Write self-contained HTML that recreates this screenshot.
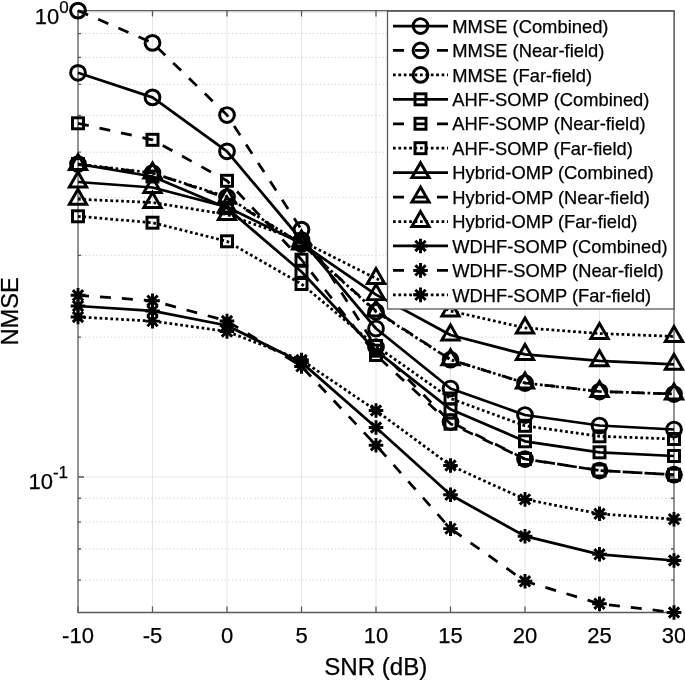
<!DOCTYPE html>
<html><head><meta charset="utf-8"><style>
html,body{margin:0;padding:0;background:#fff;}
body{width:685px;height:680px;overflow:hidden;}
svg{display:block;}
text{font-family:"Liberation Sans",sans-serif;fill:#000;stroke:#000;stroke-width:0.25px;}
</style></head><body>
<svg style="filter:grayscale(1)" width="685" height="680" viewBox="0 0 685 680">
<rect width="685" height="680" fill="#fff"/>

<line x1="152.5" y1="10.6" x2="152.5" y2="612.5" stroke="#e6e6e6" stroke-width="1"/>
<line x1="227" y1="10.6" x2="227" y2="612.5" stroke="#e6e6e6" stroke-width="1"/>
<line x1="301.5" y1="10.6" x2="301.5" y2="612.5" stroke="#e6e6e6" stroke-width="1"/>
<line x1="376" y1="10.6" x2="376" y2="612.5" stroke="#e6e6e6" stroke-width="1"/>
<line x1="450.5" y1="10.6" x2="450.5" y2="612.5" stroke="#e6e6e6" stroke-width="1"/>
<line x1="525" y1="10.6" x2="525" y2="612.5" stroke="#e6e6e6" stroke-width="1"/>
<line x1="599.5" y1="10.6" x2="599.5" y2="612.5" stroke="#e6e6e6" stroke-width="1"/>
<line x1="78" y1="12.30" x2="674" y2="12.30" stroke="#e6e6e6" stroke-width="1"/>
<line x1="78" y1="477.00" x2="674" y2="477.00" stroke="#e6e6e6" stroke-width="1"/>
<line x1="78" y1="33.56" x2="674" y2="33.56" stroke="#cccccc" stroke-width="1" stroke-dasharray="1.2 2.47"/>
<line x1="78" y1="57.33" x2="674" y2="57.33" stroke="#cccccc" stroke-width="1" stroke-dasharray="1.2 2.47"/>
<line x1="78" y1="84.28" x2="674" y2="84.28" stroke="#cccccc" stroke-width="1" stroke-dasharray="1.2 2.47"/>
<line x1="78" y1="115.39" x2="674" y2="115.39" stroke="#cccccc" stroke-width="1" stroke-dasharray="1.2 2.47"/>
<line x1="78" y1="152.19" x2="674" y2="152.19" stroke="#cccccc" stroke-width="1" stroke-dasharray="1.2 2.47"/>
<line x1="78" y1="197.22" x2="674" y2="197.22" stroke="#cccccc" stroke-width="1" stroke-dasharray="1.2 2.47"/>
<line x1="78" y1="255.28" x2="674" y2="255.28" stroke="#cccccc" stroke-width="1" stroke-dasharray="1.2 2.47"/>
<line x1="78" y1="337.11" x2="674" y2="337.11" stroke="#cccccc" stroke-width="1" stroke-dasharray="1.2 2.47"/>
<line x1="78" y1="498.26" x2="674" y2="498.26" stroke="#cccccc" stroke-width="1" stroke-dasharray="1.2 2.47"/>
<line x1="78" y1="522.03" x2="674" y2="522.03" stroke="#cccccc" stroke-width="1" stroke-dasharray="1.2 2.47"/>
<line x1="78" y1="548.98" x2="674" y2="548.98" stroke="#cccccc" stroke-width="1" stroke-dasharray="1.2 2.47"/>
<line x1="78" y1="580.09" x2="674" y2="580.09" stroke="#cccccc" stroke-width="1" stroke-dasharray="1.2 2.47"/>
<path d="M78 10.6H674V612.5H78Z" fill="none" stroke="#5a5a5a" stroke-width="1.3"/>
<path d="M78 612.5v-6M78 10.6v6M152.5 612.5v-6M152.5 10.6v6M227 612.5v-6M227 10.6v6M301.5 612.5v-6M301.5 10.6v6M376 612.5v-6M376 10.6v6M450.5 612.5v-6M450.5 10.6v6M525 612.5v-6M525 10.6v6M599.5 612.5v-6M599.5 10.6v6M674 612.5v-6M674 10.6v6M78 12.30h6M674 12.30h-6M78 477.00h6M674 477.00h-6M78 33.56h3M674 33.56h-3M78 57.33h3M674 57.33h-3M78 84.28h3M674 84.28h-3M78 115.39h3M674 115.39h-3M78 152.19h3M674 152.19h-3M78 197.22h3M674 197.22h-3M78 255.28h3M674 255.28h-3M78 337.11h3M674 337.11h-3M78 498.26h3M674 498.26h-3M78 522.03h3M674 522.03h-3M78 548.98h3M674 548.98h-3M78 580.09h3M674 580.09h-3" stroke="#5a5a5a" stroke-width="1.3"/>
<polyline points="78.00,72.80 152.50,97.40 227.00,151.30 301.50,240.00 376.00,328.50 450.50,388.50 525.00,415.00 599.50,425.50 674.00,429.50" fill="none" stroke="#000" stroke-width="2.75" stroke-linejoin="round" />
<polyline points="78.00,10.60 152.50,42.90 227.00,115.00 301.50,229.60 376.00,347.00 450.50,422.00 525.00,459.00 599.50,470.50 674.00,474.70" fill="none" stroke="#000" stroke-width="2.75" stroke-linejoin="round" stroke-dasharray="11 11"/>
<polyline points="78.00,164.00 152.50,173.00 227.00,197.00 301.50,244.00 376.00,311.70 450.50,359.70 525.00,383.00 599.50,391.50 674.00,394.00" fill="none" stroke="#000" stroke-width="2.75" stroke-linejoin="round" stroke-dasharray="2.7 2.7"/>
<polyline points="78.00,164.00 152.50,176.50 227.00,208.00 301.50,271.80 376.00,350.70 450.50,409.30 525.00,441.30 599.50,452.30 674.00,456.00" fill="none" stroke="#000" stroke-width="2.75" stroke-linejoin="round" />
<polyline points="78.00,123.30 152.50,139.80 227.00,180.80 301.50,259.70 376.00,355.00 450.50,423.70 525.00,459.00 599.50,470.50 674.00,474.70" fill="none" stroke="#000" stroke-width="2.75" stroke-linejoin="round" stroke-dasharray="11 11"/>
<polyline points="78.00,216.30 152.50,222.70 227.00,241.30 301.50,284.00 376.00,346.00 450.50,398.50 525.00,425.80 599.50,436.30 674.00,439.00" fill="none" stroke="#000" stroke-width="2.75" stroke-linejoin="round" stroke-dasharray="2.7 2.7"/>
<polyline points="78.00,182.00 152.50,187.50 227.00,207.00 301.50,243.50 376.00,294.60 450.50,335.00 525.00,354.40 599.50,360.80 674.00,364.30" fill="none" stroke="#000" stroke-width="2.75" stroke-linejoin="round" />
<polyline points="78.00,164.60 152.50,173.00 227.00,198.00 301.50,244.00 376.00,311.00 450.50,359.70 525.00,383.00 599.50,391.50 674.00,394.00" fill="none" stroke="#000" stroke-width="2.75" stroke-linejoin="round" stroke-dasharray="11 11"/>
<polyline points="78.00,199.20 152.50,202.50 227.00,214.50 301.50,241.00 376.00,278.50 450.50,311.00 525.00,327.90 599.50,333.50 674.00,336.40" fill="none" stroke="#000" stroke-width="2.75" stroke-linejoin="round" stroke-dasharray="2.7 2.7"/>
<polyline points="78.00,306.00 152.50,310.90 227.00,325.50 301.50,362.40 376.00,427.50 450.50,494.80 525.00,536.20 599.50,554.30 674.00,560.50" fill="none" stroke="#000" stroke-width="2.75" stroke-linejoin="round" />
<polyline points="78.00,295.30 152.50,300.70 227.00,321.00 301.50,366.40 376.00,445.20 450.50,528.60 525.00,581.30 599.50,603.70 674.00,612.50" fill="none" stroke="#000" stroke-width="2.75" stroke-linejoin="round" stroke-dasharray="11 11"/>
<polyline points="78.00,317.00 152.50,321.10 227.00,331.50 301.50,360.00 376.00,410.50 450.50,465.50 525.00,499.40 599.50,513.80 674.00,519.20" fill="none" stroke="#000" stroke-width="2.75" stroke-linejoin="round" stroke-dasharray="2.7 2.7"/>
<g fill="none" stroke="#000" stroke-width="2.95" stroke-linecap="butt"><circle cx="78.00" cy="72.80" r="7.4"/><circle cx="152.50" cy="97.40" r="7.4"/><circle cx="227.00" cy="151.30" r="7.4"/><circle cx="301.50" cy="240.00" r="7.4"/><circle cx="376.00" cy="328.50" r="7.4"/><circle cx="450.50" cy="388.50" r="7.4"/><circle cx="525.00" cy="415.00" r="7.4"/><circle cx="599.50" cy="425.50" r="7.4"/><circle cx="674.00" cy="429.50" r="7.4"/></g>
<g fill="none" stroke="#000" stroke-width="2.95" stroke-linecap="butt"><circle cx="78.00" cy="10.60" r="7.4"/><circle cx="152.50" cy="42.90" r="7.4"/><circle cx="227.00" cy="115.00" r="7.4"/><circle cx="301.50" cy="229.60" r="7.4"/><circle cx="376.00" cy="347.00" r="7.4"/><circle cx="450.50" cy="422.00" r="7.4"/><circle cx="525.00" cy="459.00" r="7.4"/><circle cx="599.50" cy="470.50" r="7.4"/><circle cx="674.00" cy="474.70" r="7.4"/></g>
<g fill="none" stroke="#000" stroke-width="2.95" stroke-linecap="butt"><circle cx="78.00" cy="164.00" r="7.4"/><circle cx="152.50" cy="173.00" r="7.4"/><circle cx="227.00" cy="197.00" r="7.4"/><circle cx="301.50" cy="244.00" r="7.4"/><circle cx="376.00" cy="311.70" r="7.4"/><circle cx="450.50" cy="359.70" r="7.4"/><circle cx="525.00" cy="383.00" r="7.4"/><circle cx="599.50" cy="391.50" r="7.4"/><circle cx="674.00" cy="394.00" r="7.4"/></g>
<g fill="none" stroke="#000" stroke-width="2.95" stroke-linecap="butt"><rect x="72.50" y="158.50" width="11.0" height="11.0"/><rect x="147.00" y="171.00" width="11.0" height="11.0"/><rect x="221.50" y="202.50" width="11.0" height="11.0"/><rect x="296.00" y="266.30" width="11.0" height="11.0"/><rect x="370.50" y="345.20" width="11.0" height="11.0"/><rect x="445.00" y="403.80" width="11.0" height="11.0"/><rect x="519.50" y="435.80" width="11.0" height="11.0"/><rect x="594.00" y="446.80" width="11.0" height="11.0"/><rect x="668.50" y="450.50" width="11.0" height="11.0"/></g>
<g fill="none" stroke="#000" stroke-width="2.95" stroke-linecap="butt"><rect x="72.50" y="117.80" width="11.0" height="11.0"/><rect x="147.00" y="134.30" width="11.0" height="11.0"/><rect x="221.50" y="175.30" width="11.0" height="11.0"/><rect x="296.00" y="254.20" width="11.0" height="11.0"/><rect x="370.50" y="349.50" width="11.0" height="11.0"/><rect x="445.00" y="418.20" width="11.0" height="11.0"/><rect x="519.50" y="453.50" width="11.0" height="11.0"/><rect x="594.00" y="465.00" width="11.0" height="11.0"/><rect x="668.50" y="469.20" width="11.0" height="11.0"/></g>
<g fill="none" stroke="#000" stroke-width="2.95" stroke-linecap="butt"><rect x="72.50" y="210.80" width="11.0" height="11.0"/><rect x="147.00" y="217.20" width="11.0" height="11.0"/><rect x="221.50" y="235.80" width="11.0" height="11.0"/><rect x="296.00" y="278.50" width="11.0" height="11.0"/><rect x="370.50" y="340.50" width="11.0" height="11.0"/><rect x="445.00" y="393.00" width="11.0" height="11.0"/><rect x="519.50" y="420.30" width="11.0" height="11.0"/><rect x="594.00" y="430.80" width="11.0" height="11.0"/><rect x="668.50" y="433.50" width="11.0" height="11.0"/></g>
<g fill="none" stroke="#000" stroke-width="2.95" stroke-linecap="butt"><path d="M78.00 172.00L86.66 187.00L69.34 187.00Z"/><path d="M152.50 177.50L161.16 192.50L143.84 192.50Z"/><path d="M227.00 197.00L235.66 212.00L218.34 212.00Z"/><path d="M301.50 233.50L310.16 248.50L292.84 248.50Z"/><path d="M376.00 284.60L384.66 299.60L367.34 299.60Z"/><path d="M450.50 325.00L459.16 340.00L441.84 340.00Z"/><path d="M525.00 344.40L533.66 359.40L516.34 359.40Z"/><path d="M599.50 350.80L608.16 365.80L590.84 365.80Z"/><path d="M674.00 354.30L682.66 369.30L665.34 369.30Z"/></g>
<g fill="none" stroke="#000" stroke-width="2.95" stroke-linecap="butt"><path d="M78.00 154.60L86.66 169.60L69.34 169.60Z"/><path d="M152.50 163.00L161.16 178.00L143.84 178.00Z"/><path d="M227.00 188.00L235.66 203.00L218.34 203.00Z"/><path d="M301.50 234.00L310.16 249.00L292.84 249.00Z"/><path d="M376.00 301.00L384.66 316.00L367.34 316.00Z"/><path d="M450.50 349.70L459.16 364.70L441.84 364.70Z"/><path d="M525.00 373.00L533.66 388.00L516.34 388.00Z"/><path d="M599.50 381.50L608.16 396.50L590.84 396.50Z"/><path d="M674.00 384.00L682.66 399.00L665.34 399.00Z"/></g>
<g fill="none" stroke="#000" stroke-width="2.95" stroke-linecap="butt"><path d="M78.00 189.20L86.66 204.20L69.34 204.20Z"/><path d="M152.50 192.50L161.16 207.50L143.84 207.50Z"/><path d="M227.00 204.50L235.66 219.50L218.34 219.50Z"/><path d="M301.50 231.00L310.16 246.00L292.84 246.00Z"/><path d="M376.00 268.50L384.66 283.50L367.34 283.50Z"/><path d="M450.50 301.00L459.16 316.00L441.84 316.00Z"/><path d="M525.00 317.90L533.66 332.90L516.34 332.90Z"/><path d="M599.50 323.50L608.16 338.50L590.84 338.50Z"/><path d="M674.00 326.40L682.66 341.40L665.34 341.40Z"/></g>
<g fill="none" stroke="#000" stroke-width="2.95" stroke-linecap="butt"><path d="M70.70 306.00H85.30M78.00 298.70V313.30M72.84 300.84L83.16 311.16M72.84 311.16L83.16 300.84"/><path d="M145.20 310.90H159.80M152.50 303.60V318.20M147.34 305.74L157.66 316.06M147.34 316.06L157.66 305.74"/><path d="M219.70 325.50H234.30M227.00 318.20V332.80M221.84 320.34L232.16 330.66M221.84 330.66L232.16 320.34"/><path d="M294.20 362.40H308.80M301.50 355.10V369.70M296.34 357.24L306.66 367.56M296.34 367.56L306.66 357.24"/><path d="M368.70 427.50H383.30M376.00 420.20V434.80M370.84 422.34L381.16 432.66M370.84 432.66L381.16 422.34"/><path d="M443.20 494.80H457.80M450.50 487.50V502.10M445.34 489.64L455.66 499.96M445.34 499.96L455.66 489.64"/><path d="M517.70 536.20H532.30M525.00 528.90V543.50M519.84 531.04L530.16 541.36M519.84 541.36L530.16 531.04"/><path d="M592.20 554.30H606.80M599.50 547.00V561.60M594.34 549.14L604.66 559.46M594.34 559.46L604.66 549.14"/><path d="M666.70 560.50H681.30M674.00 553.20V567.80M668.84 555.34L679.16 565.66M668.84 565.66L679.16 555.34"/></g>
<g fill="none" stroke="#000" stroke-width="2.95" stroke-linecap="butt"><path d="M70.70 295.30H85.30M78.00 288.00V302.60M72.84 290.14L83.16 300.46M72.84 300.46L83.16 290.14"/><path d="M145.20 300.70H159.80M152.50 293.40V308.00M147.34 295.54L157.66 305.86M147.34 305.86L157.66 295.54"/><path d="M219.70 321.00H234.30M227.00 313.70V328.30M221.84 315.84L232.16 326.16M221.84 326.16L232.16 315.84"/><path d="M294.20 366.40H308.80M301.50 359.10V373.70M296.34 361.24L306.66 371.56M296.34 371.56L306.66 361.24"/><path d="M368.70 445.20H383.30M376.00 437.90V452.50M370.84 440.04L381.16 450.36M370.84 450.36L381.16 440.04"/><path d="M443.20 528.60H457.80M450.50 521.30V535.90M445.34 523.44L455.66 533.76M445.34 533.76L455.66 523.44"/><path d="M517.70 581.30H532.30M525.00 574.00V588.60M519.84 576.14L530.16 586.46M519.84 586.46L530.16 576.14"/><path d="M592.20 603.70H606.80M599.50 596.40V611.00M594.34 598.54L604.66 608.86M594.34 608.86L604.66 598.54"/><path d="M666.70 612.50H681.30M674.00 605.20V619.80M668.84 607.34L679.16 617.66M668.84 617.66L679.16 607.34"/></g>
<g fill="none" stroke="#000" stroke-width="2.95" stroke-linecap="butt"><path d="M70.70 317.00H85.30M78.00 309.70V324.30M72.84 311.84L83.16 322.16M72.84 322.16L83.16 311.84"/><path d="M145.20 321.10H159.80M152.50 313.80V328.40M147.34 315.94L157.66 326.26M147.34 326.26L157.66 315.94"/><path d="M219.70 331.50H234.30M227.00 324.20V338.80M221.84 326.34L232.16 336.66M221.84 336.66L232.16 326.34"/><path d="M294.20 360.00H308.80M301.50 352.70V367.30M296.34 354.84L306.66 365.16M296.34 365.16L306.66 354.84"/><path d="M368.70 410.50H383.30M376.00 403.20V417.80M370.84 405.34L381.16 415.66M370.84 415.66L381.16 405.34"/><path d="M443.20 465.50H457.80M450.50 458.20V472.80M445.34 460.34L455.66 470.66M445.34 470.66L455.66 460.34"/><path d="M517.70 499.40H532.30M525.00 492.10V506.70M519.84 494.24L530.16 504.56M519.84 504.56L530.16 494.24"/><path d="M592.20 513.80H606.80M599.50 506.50V521.10M594.34 508.64L604.66 518.96M594.34 518.96L604.66 508.64"/><path d="M666.70 519.20H681.30M674.00 511.90V526.50M668.84 514.04L679.16 524.36M668.84 524.36L679.16 514.04"/></g>
<text x="78" y="643.3" font-size="22" text-anchor="middle">-10</text>
<text x="152.5" y="643.3" font-size="22" text-anchor="middle">-5</text>
<text x="227" y="643.3" font-size="22" text-anchor="middle">0</text>
<text x="301.5" y="643.3" font-size="22" text-anchor="middle">5</text>
<text x="376" y="643.3" font-size="22" text-anchor="middle">10</text>
<text x="450.5" y="643.3" font-size="22" text-anchor="middle">15</text>
<text x="525" y="643.3" font-size="22" text-anchor="middle">20</text>
<text x="599.5" y="643.3" font-size="22" text-anchor="middle">25</text>
<text x="674" y="643.3" font-size="22" text-anchor="middle">30</text>
<text x="68.6" y="24.2" font-size="22" text-anchor="end">10<tspan font-size="17" dy="-11.4">0</tspan></text>
<text x="68" y="488.8" font-size="22" text-anchor="end">10<tspan font-size="17" dy="-11">-1</tspan></text>
<text x="324.2" y="674.8" font-size="23" textLength="103.2" lengthAdjust="spacingAndGlyphs">SNR (dB)</text>
<text transform="translate(17.5 345.6) rotate(-90)" x="0" y="0" font-size="23" textLength="68.5" lengthAdjust="spacingAndGlyphs">NMSE</text>
<rect x="387.5" y="11.2" width="286.5" height="297.8" fill="#fff" stroke="#5a5a5a" stroke-width="1.3"/>
<line x1="393" y1="26.00" x2="448" y2="26.00" stroke="#000" stroke-width="2.75" />
<g fill="none" stroke="#000" stroke-width="2.95"><circle cx="420.50" cy="26.00" r="7.4"/></g>
<text x="452.3" y="32.70" font-size="17.8" stroke="#000" stroke-width="0.3" textLength="156.2" lengthAdjust="spacingAndGlyphs">MMSE (Combined)</text>
<line x1="393" y1="50.44" x2="448" y2="50.44" stroke="#000" stroke-width="2.75" stroke-dasharray="11 11"/>
<g fill="none" stroke="#000" stroke-width="2.95"><circle cx="420.50" cy="50.44" r="7.4"/></g>
<text x="452.3" y="57.14" font-size="17.8" stroke="#000" stroke-width="0.3" textLength="152.1" lengthAdjust="spacingAndGlyphs">MMSE (Near-field)</text>
<line x1="393" y1="74.88" x2="448" y2="74.88" stroke="#000" stroke-width="2.75" stroke-dasharray="2.7 2.7"/>
<g fill="none" stroke="#000" stroke-width="2.95"><circle cx="420.50" cy="74.88" r="7.4"/></g>
<text x="452.3" y="81.58" font-size="17.8" stroke="#000" stroke-width="0.3" textLength="139.7" lengthAdjust="spacingAndGlyphs">MMSE (Far-field)</text>
<line x1="393" y1="99.32" x2="448" y2="99.32" stroke="#000" stroke-width="2.75" />
<g fill="none" stroke="#000" stroke-width="2.95"><rect x="415.00" y="93.82" width="11.0" height="11.0"/></g>
<text x="452.3" y="106.02" font-size="17.8" stroke="#000" stroke-width="0.3" textLength="197.1" lengthAdjust="spacingAndGlyphs">AHF-SOMP (Combined)</text>
<line x1="393" y1="123.76" x2="448" y2="123.76" stroke="#000" stroke-width="2.75" stroke-dasharray="11 11"/>
<g fill="none" stroke="#000" stroke-width="2.95"><rect x="415.00" y="118.26" width="11.0" height="11.0"/></g>
<text x="452.3" y="130.46" font-size="17.8" stroke="#000" stroke-width="0.3" textLength="193.2" lengthAdjust="spacingAndGlyphs">AHF-SOMP (Near-field)</text>
<line x1="393" y1="148.20" x2="448" y2="148.20" stroke="#000" stroke-width="2.75" stroke-dasharray="2.7 2.7"/>
<g fill="none" stroke="#000" stroke-width="2.95"><rect x="415.00" y="142.70" width="11.0" height="11.0"/></g>
<text x="452.3" y="154.90" font-size="17.8" stroke="#000" stroke-width="0.3" textLength="180.5" lengthAdjust="spacingAndGlyphs">AHF-SOMP (Far-field)</text>
<line x1="393" y1="172.64" x2="448" y2="172.64" stroke="#000" stroke-width="2.75" />
<g fill="none" stroke="#000" stroke-width="2.95"><path d="M420.50 162.64L429.16 177.64L411.84 177.64Z"/></g>
<text x="452.3" y="179.34" font-size="17.8" stroke="#000" stroke-width="0.3" textLength="201.4" lengthAdjust="spacingAndGlyphs">Hybrid-OMP (Combined)</text>
<line x1="393" y1="197.08" x2="448" y2="197.08" stroke="#000" stroke-width="2.75" stroke-dasharray="11 11"/>
<g fill="none" stroke="#000" stroke-width="2.95"><path d="M420.50 187.08L429.16 202.08L411.84 202.08Z"/></g>
<text x="452.3" y="203.78" font-size="17.8" stroke="#000" stroke-width="0.3" textLength="197.5" lengthAdjust="spacingAndGlyphs">Hybrid-OMP (Near-field)</text>
<line x1="393" y1="221.52" x2="448" y2="221.52" stroke="#000" stroke-width="2.75" stroke-dasharray="2.7 2.7"/>
<g fill="none" stroke="#000" stroke-width="2.95"><path d="M420.50 211.52L429.16 226.52L411.84 226.52Z"/></g>
<text x="452.3" y="228.22" font-size="17.8" stroke="#000" stroke-width="0.3" textLength="185.1" lengthAdjust="spacingAndGlyphs">Hybrid-OMP (Far-field)</text>
<line x1="393" y1="245.96" x2="448" y2="245.96" stroke="#000" stroke-width="2.75" />
<g fill="none" stroke="#000" stroke-width="2.95"><path d="M413.20 245.96H427.80M420.50 238.66V253.26M415.34 240.80L425.66 251.12M415.34 251.12L425.66 240.80"/></g>
<text x="452.3" y="252.66" font-size="17.8" stroke="#000" stroke-width="0.3" textLength="215.2" lengthAdjust="spacingAndGlyphs">WDHF-SOMP (Combined)</text>
<line x1="393" y1="270.40" x2="448" y2="270.40" stroke="#000" stroke-width="2.75" stroke-dasharray="11 11"/>
<g fill="none" stroke="#000" stroke-width="2.95"><path d="M413.20 270.40H427.80M420.50 263.10V277.70M415.34 265.24L425.66 275.56M415.34 275.56L425.66 265.24"/></g>
<text x="452.3" y="277.10" font-size="17.8" stroke="#000" stroke-width="0.3" textLength="211.4" lengthAdjust="spacingAndGlyphs">WDHF-SOMP (Near-field)</text>
<line x1="393" y1="294.84" x2="448" y2="294.84" stroke="#000" stroke-width="2.75" stroke-dasharray="2.7 2.7"/>
<g fill="none" stroke="#000" stroke-width="2.95"><path d="M413.20 294.84H427.80M420.50 287.54V302.14M415.34 289.68L425.66 300.00M415.34 300.00L425.66 289.68"/></g>
<text x="452.3" y="301.54" font-size="17.8" stroke="#000" stroke-width="0.3" textLength="198.9" lengthAdjust="spacingAndGlyphs">WDHF-SOMP (Far-field)</text>
</svg>
</body></html>
